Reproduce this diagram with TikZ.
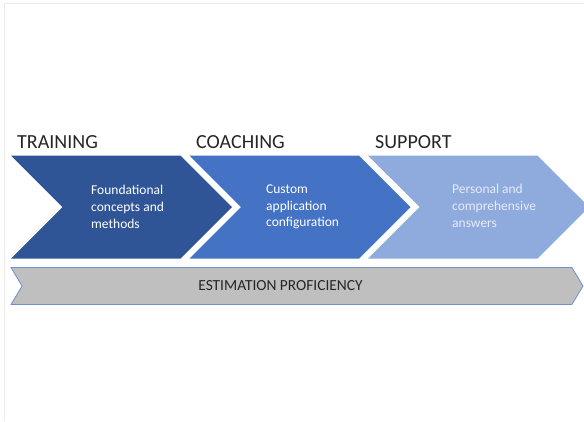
\documentclass[tikz,border=0pt]{standalone}
\usepackage{fontspec}
\setmainfont{Carlito}
\usetikzlibrary{shapes.symbols,positioning}
\definecolor{darkblue}{RGB}{47,85,151}
\definecolor{midblue}{RGB}{68,114,196}
\definecolor{lightblue}{RGB}{143,170,220}
\definecolor{bargray}{RGB}{191,191,191}
\definecolor{barline}{RGB}{112,143,204}
\definecolor{framegray}{RGB}{236,236,236}
\definecolor{paletext}{RGB}{230,236,248}
\begin{document}
\begin{tikzpicture}[x=1pt, y=-1pt,
			chev/.style={signal, signal from=west, signal to=east, minimum width=221pt, minimum height=103pt, inner sep=0pt},
			bar/.style={signal, signal from=west, signal to=east, signal pointer angle=118, minimum width=572pt, minimum height=37pt, inner sep=0pt, fill=bargray, draw=barline, line width=0.8pt},
			title/.style={font=\fontsize{20}{24}\selectfont, anchor=base west, inner sep=0pt, text=black!85},
			body/.style={font=\fontsize{13.5}{16.7}\selectfont, align=left, anchor=west, inner sep=0pt, text=white},
			barText/.style={font=\fontsize{15.4}{18}\selectfont, inner sep=0pt, text=black!85},
			]
			\useasboundingbox (0,0) rectangle (584,421);
			\draw[framegray, line width=1.5pt] (4.5,421) -- (4.5,3.5) -- (584,3.5);
			
			% chevrons
			\draw node[chev, fill=darkblue] at (121.5,207) (training) {};
			\draw node[chev, fill=midblue] at (300,207) (coaching) {};
			\draw node[chev, fill=lightblue] at (478.5,207) (support) {};
			
			% titles
			\draw node[title] at (17,148) (trainingTitle) {TRAINING};
			\draw node[title] at (196,148) (coachingTitle) {COACHING};
			\draw node[title] at (375,148) (supportTitle) {SUPPORT};
			
			% texts
			\draw node[body] at (91,207) (trainingText) {Foundational\\concepts and\\methods};
			\draw node[body] at (266,207) (coachingText) {Custom\\application\\configuration};
			\draw node[body, text=paletext] at (452,206) (supportText) {Personal and\\comprehensive\\answers};
			
			% bar
			\draw node[bar] at (297,286) (proficiency) {};
			\draw node[barText] at (280.5,286) (proficiencyText) {ESTIMATION PROFICIENCY};
			
		\end{tikzpicture}
\end{document}
